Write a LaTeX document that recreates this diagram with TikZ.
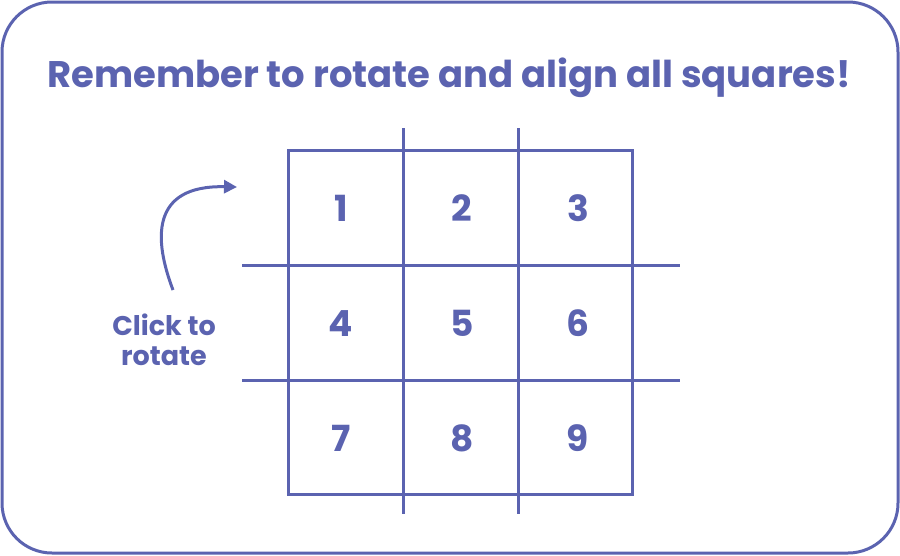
\documentclass[tikz,border=0pt]{standalone}
\usepackage{fontspec}
\setmainfont{Poppins}
\usetikzlibrary{arrows.meta}
\definecolor{ink}{RGB}{91,99,176}
\begin{document}
\begin{tikzpicture}[x=1pt,y=-1pt,
  gridline/.style={draw=ink,line width=3pt},
  numlabel/.style={text=ink,font=\fontsize{36}{36}\selectfont\bfseries,anchor=base,inner sep=0pt},
]
\useasboundingbox (0,0) rectangle (900,555);
\draw[ink,line width=3pt,rounded corners=50pt] (2,2) rectangle (898,553);
\node[text=ink,font=\fontsize{37}{37}\selectfont\bfseries,anchor=base,inner sep=0pt] (title) at (449,87) {Remember to rotate and align all squares!};
% grid
\draw[gridline] (288,150) rectangle (632,494);
\draw[gridline] (403,128) -- (403,514);
\draw[gridline] (518,128) -- (518,514);
\draw[gridline] (242,265) -- (680,265);
\draw[gridline] (242,380) -- (680,380);
% numbers
\node[numlabel] (n1) at (341,221) {1};
\node[numlabel] (n2) at (462,221) {2};
\node[numlabel] (n3) at (578,221) {3};
\node[numlabel] (n4) at (341,336) {4};
\node[numlabel] (n5) at (462,336) {5};
\node[numlabel] (n6) at (578,336) {6};
\node[numlabel] (n7) at (341,451) {7};
\node[numlabel] (n8) at (462,451) {8};
\node[numlabel] (n9) at (578,451) {9};
% click label
\node[text=ink,font=\fontsize{27}{30}\selectfont\bfseries,align=center,anchor=base,inner sep=0pt] (click) at (164,365) {Click to\\rotate};
\coordinate (astart) at (173,290);
\coordinate (aend) at (237,187);
\draw[ink,line width=3pt,-{Triangle[length=13pt,width=13pt]}] (astart) .. controls (154,240) and (150,185) .. (aend);
\end{tikzpicture}
\end{document}
